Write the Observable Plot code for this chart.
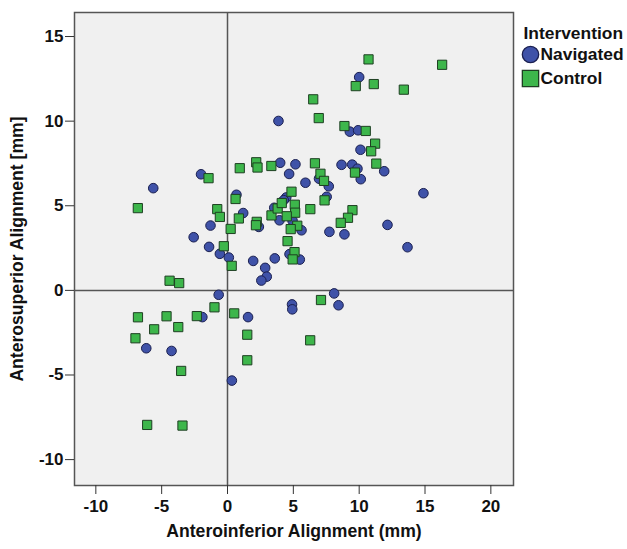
<!DOCTYPE html>
<html>
<head>
<meta charset="utf-8">
<script src="https://cdn.jsdelivr.net/npm/d3@7"></script>
<script src="https://cdn.jsdelivr.net/npm/@observablehq/plot@0.6"></script>
<style>
  html, body { margin: 0; padding: 0; background: #ffffff; }
  #chart { width: 627px; height: 549px; }
</style>
</head>
<body>
<div id="chart"></div>
<script>
// ---- data ----
const xTicks = [-10, -5, 0, 5, 10, 15, 20];
const yTicks = [-10, -5, 0, 5, 10, 15];
const groups = ["Navigated", "Control"];
const legendTitle = "Intervention";
const xTitle = "Anteroinferior Alignment (mm)";
const yTitle = "Anterosuperior Alignment [mm]";

const navX = [3.87, 4.00, 5.16, 4.68, 8.66, 9.47, 9.87, 11.90, 10.00, 9.29, 9.92, 10.10, 6.95, 5.92, 7.69, 10.12, 14.88, 7.53, 4.46, 4.27, 12.15, 5.62, 4.94, 3.95, 7.74, 8.88, 13.67, 4.71, 5.49, 8.10, 8.43, 4.90, 4.92, -2.01, -5.64, 0.68, 1.19, 2.38, 3.55, -1.29, -2.57, -1.40, -0.58, 0.10, 1.95, 3.59, 2.86, 2.98, 2.57, -0.67, -1.91, 1.56, -6.17, -4.25, 0.33];
const navY = [10.01, 7.54, 7.45, 6.88, 7.42, 7.43, 7.19, 7.04, 12.60, 9.38, 9.46, 8.31, 6.60, 6.36, 6.15, 6.57, 5.74, 5.53, 5.49, 5.33, 3.87, 3.55, 4.12, 4.14, 3.46, 3.31, 2.55, 2.14, 1.82, -0.18, -0.88, -0.83, -1.12, 6.86, 6.04, 5.65, 4.57, 3.75, 4.88, 3.83, 3.14, 2.57, 2.16, 1.94, 1.74, 1.89, 1.33, 0.81, 0.58, -0.26, -1.58, -1.58, -3.42, -3.58, -5.33];

const ctrlX = [10.71, 16.30, 9.74, 11.11, 13.39, 6.51, 6.93, 8.88, 10.50, 11.21, 10.91, 6.64, 11.30, 7.06, 7.33, 9.68, 4.86, 7.37, 5.11, 5.14, 6.29, 9.49, 9.15, 8.60, 5.30, 4.80, 5.09, 4.95, 7.10, 6.28, 0.93, 2.18, 2.28, 3.33, -1.44, -6.81, 0.61, 0.86, -0.78, -0.58, 0.24, 2.22, 2.16, 3.34, 3.81, 4.12, 4.50, -0.28, 0.32, 4.56, -4.40, -3.67, -0.99, -6.80, -4.63, -2.33, 0.51, -5.57, -3.74, -6.99, 1.50, 1.50, -3.52, -6.10, -3.42];
const ctrlY = [13.65, 13.33, 12.07, 12.19, 11.86, 11.29, 10.18, 9.71, 9.42, 8.67, 8.22, 7.51, 7.49, 6.89, 6.47, 6.96, 5.83, 5.32, 5.06, 4.59, 4.80, 4.74, 4.29, 3.99, 3.82, 3.62, 2.26, 1.83, -0.57, -2.95, 7.22, 7.57, 7.26, 7.35, 6.63, 4.86, 5.40, 4.25, 4.80, 4.34, 3.63, 4.05, 3.85, 4.43, 4.84, 5.16, 4.38, 2.61, 1.45, 2.91, 0.57, 0.43, -1.00, -1.59, -1.53, -1.52, -1.36, -2.30, -2.17, -2.83, -2.62, -4.13, -4.76, -7.95, -7.99];

// ---- styles ----
const navFill = "#3f52a8", navStroke = "#1b2050";
const ctrlFill = "#3db64b", ctrlStroke = "#1e3f22";
const lineColor = "#555555";

const navData = navX.map((x, i) => ({x, y: navY[i], group: groups[0]}));
const ctrlData = ctrlX.map((x, i) => ({x, y: ctrlY[i], group: groups[1]}));

const fmt = d => String(d);

const chart = Plot.plot({
  width: 627,
  height: 549,
  marginLeft: 74,
  marginRight: 114,
  marginTop: 12,
  marginBottom: 64,
  x: {domain: [-11.62, 21.72]},
  y: {domain: [-11.53, 16.42]},
  style: {fontFamily: "'Liberation Sans', Arial, sans-serif", fontSize: "17px", color: "#111", background: "white", overflow: "visible"},
  marks: [
    Plot.frame({fill: "#f0f0f0", stroke: lineColor, strokeWidth: 1.5}),
    Plot.ruleX([0], {stroke: lineColor, strokeWidth: 1.5}),
    Plot.ruleY([0], {stroke: lineColor, strokeWidth: 1.5}),
    Plot.axisX(xTicks, {tickSize: 9, tickPadding: 5, tickFormat: fmt, label: null, stroke: "#333", fontWeight: "bold"}),
    Plot.axisY(yTicks, {tickSize: 9, tickPadding: 2, tickFormat: fmt, label: null, stroke: "#333", fontWeight: "bold"}),
    Plot.text([xTitle], {frameAnchor: "bottom", dy: 46, lineAnchor: "middle", fontWeight: "bold", fontSize: 17.6, fill: "#111"}),
    Plot.text([yTitle], {frameAnchor: "left", dx: -57, rotate: -90, textAnchor: "middle", lineAnchor: "middle", fontWeight: "bold", fontSize: 17.6, fill: "#111"}),
    Plot.dot(navData, {x: "x", y: "y", r: 4.8, fill: navFill, stroke: navStroke, strokeWidth: 1}),
    Plot.dot(ctrlData, {x: "x", y: "y", symbol: "square", r: 5.2, fill: ctrlFill, stroke: ctrlStroke, strokeWidth: 1}),
    // legend
    Plot.text([legendTitle], {frameAnchor: "top-right", dx: 10, dy: 21, textAnchor: "start", lineAnchor: "middle", fontWeight: "bold", fontSize: 17.4, fill: "#111"}),
    Plot.dot([groups[0]], {frameAnchor: "top-right", dx: 17, dy: 42, r: 8.2, fill: navFill, stroke: navStroke, strokeWidth: 1.3}),
    Plot.dot([groups[1]], {frameAnchor: "top-right", dx: 17, dy: 66, symbol: "square", r: 9.2, fill: ctrlFill, stroke: ctrlStroke, strokeWidth: 1.3}),
    Plot.text([groups[0]], {frameAnchor: "top-right", dx: 27, dy: 42, textAnchor: "start", lineAnchor: "middle", fontWeight: "bold", fontSize: 17.4, fill: "#111"}),
    Plot.text([groups[1]], {frameAnchor: "top-right", dx: 27, dy: 66, textAnchor: "start", lineAnchor: "middle", fontWeight: "bold", fontSize: 17.4, fill: "#111"})
  ]
});
document.getElementById("chart").appendChild(chart);
</script>
</body>
</html>
